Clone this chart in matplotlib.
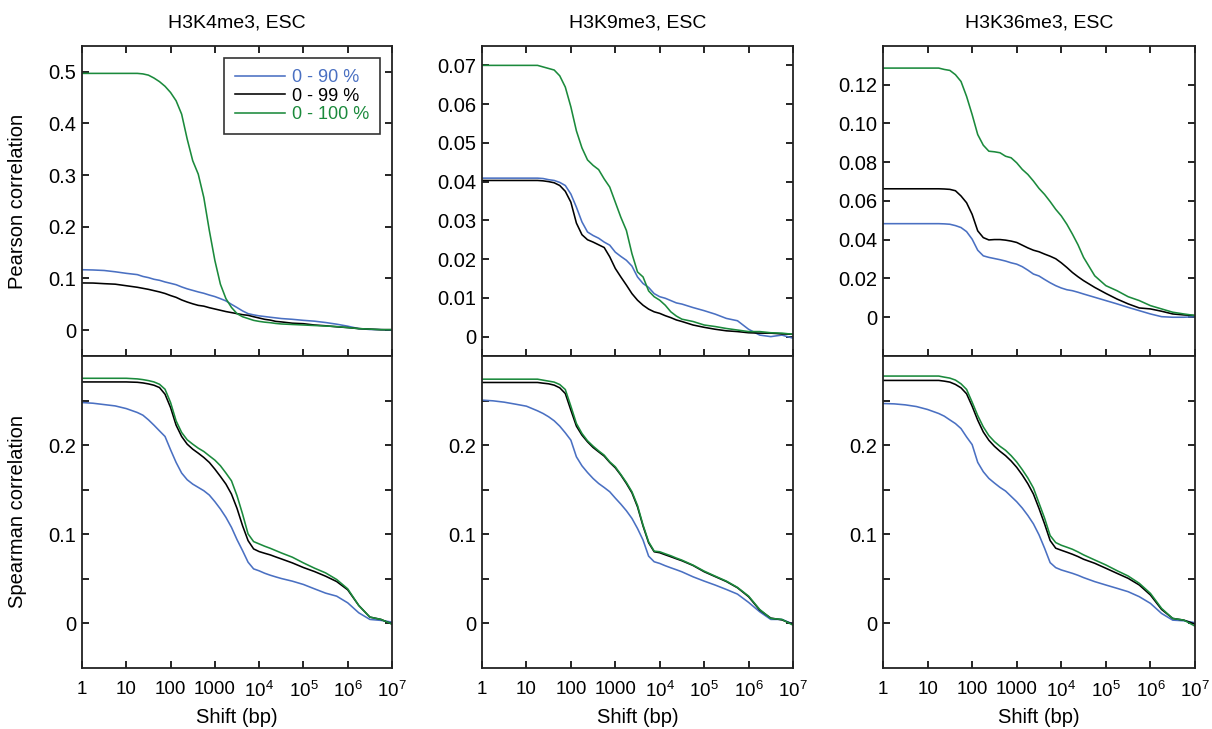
import matplotlib
matplotlib.use('Agg')
import matplotlib.pyplot as plt
from matplotlib.ticker import FixedLocator, FixedFormatter

plt.rcParams['font.family'] = ['Liberation Sans', 'DejaVu Sans']
plt.rcParams['mathtext.fontset'] = 'custom'
plt.rcParams['mathtext.rm'] = 'Liberation Sans'
plt.rcParams['mathtext.it'] = 'Liberation Sans:italic'

log_shift = [0, 0.25, 0.5, 0.75, 1, 1.25,
             1.375, 1.5, 1.625, 1.75, 1.875, 2, 2.125, 2.25, 2.375, 2.5, 2.625, 2.75, 2.875,
             3, 3.125, 3.25, 3.375, 3.5, 3.625, 3.75, 3.875, 4, 4.125, 4.25, 4.375, 4.5,
             4.75, 5, 5.25, 5.5, 5.75, 6, 6.25, 6.5, 6.75, 7]

labels = ['0 - 90 %', '0 - 99 %', '0 - 100 %']
colors = ['#4a70c2', '#000000', '#1b8a3c']
titles = ['H3K4me3, ESC', 'H3K9me3, ESC', 'H3K36me3, ESC']

# H3K4me3 Pearson
k4_p90 = [0.117, 0.1165, 0.1155, 0.113, 0.110, 0.1075,
          0.104, 0.1017, 0.0985, 0.0965, 0.0933, 0.0907, 0.088, 0.0837, 0.080, 0.077, 0.074, 0.0714, 0.068,
          0.065, 0.061, 0.0566, 0.050, 0.0438, 0.0373, 0.032, 0.0296, 0.0277, 0.0264, 0.025, 0.0238, 0.0225,
          0.021, 0.019, 0.0174, 0.0148, 0.0116, 0.0077, 0.003, 0.0013, 0.001, 0.0]
k4_p99 = [0.0914, 0.0912, 0.090, 0.089, 0.086, 0.083,
          0.081, 0.079, 0.0765, 0.074, 0.071, 0.067, 0.0635, 0.0585, 0.0545, 0.051, 0.048, 0.0465, 0.0435,
          0.041, 0.0385, 0.036, 0.034, 0.032, 0.030, 0.0287, 0.026, 0.0235, 0.021, 0.0195, 0.017, 0.016,
          0.0135, 0.0125, 0.010, 0.0085, 0.0065, 0.005, 0.003, 0.002, 0.001, 0.001]
k4_p100 = [0.497, 0.497, 0.497, 0.497, 0.497, 0.497,
           0.496, 0.4936, 0.488, 0.481, 0.472, 0.460, 0.444, 0.418, 0.370, 0.328, 0.302, 0.257, 0.193,
           0.135, 0.089, 0.061, 0.044, 0.032, 0.026, 0.0225, 0.019, 0.017, 0.0155, 0.0145, 0.013, 0.012,
           0.011, 0.010, 0.009, 0.008, 0.007, 0.005, 0.003, 0.002, 0.001, 0.001]

# H3K9me3 Pearson
k9_p90 = [0.0409, 0.0409, 0.0409, 0.0409, 0.0409, 0.0409,
          0.0408, 0.0405, 0.0403, 0.0398, 0.039, 0.0368, 0.0334, 0.0296, 0.027, 0.0261, 0.0254, 0.0244, 0.0236,
          0.0218, 0.0207, 0.0197, 0.0182, 0.0154, 0.0137, 0.0127, 0.0111, 0.0103, 0.0099, 0.0093, 0.0087, 0.0084,
          0.0075, 0.0067, 0.0058, 0.0047, 0.0041, 0.0019, 0.0004, 0.0, 0.0004, -0.0004]
k9_p99 = [0.0403, 0.0403, 0.0403, 0.0403, 0.0403, 0.0403,
          0.0402, 0.040, 0.0397, 0.039, 0.0375, 0.0347, 0.0293, 0.0263, 0.025, 0.0244, 0.0237, 0.023, 0.0206,
          0.0176, 0.0154, 0.0133, 0.0111, 0.0094, 0.0081, 0.0071, 0.0064, 0.006, 0.0054, 0.0049, 0.0043, 0.0039,
          0.003, 0.0024, 0.0019, 0.0015, 0.0013, 0.001, 0.0009, 0.0009, 0.0007, 0.0006]
k9_p100 = [0.070, 0.070, 0.070, 0.070, 0.070, 0.070,
           0.0696, 0.0692, 0.0688, 0.0673, 0.0644, 0.0593, 0.0531, 0.0487, 0.0456, 0.0442, 0.0431, 0.0407, 0.0386,
           0.0347, 0.0308, 0.0274, 0.0214, 0.0167, 0.0154, 0.0118, 0.0103, 0.0094, 0.0081, 0.0064, 0.0053, 0.0045,
           0.0039, 0.003, 0.0026, 0.0021, 0.0017, 0.0013, 0.0013, 0.001, 0.0009, 0.0006]

# H3K36me3 Pearson
k36_p90 = [0.0483, 0.0483, 0.0483, 0.0483, 0.0483, 0.0483,
           0.0482, 0.048, 0.0473, 0.0463, 0.0442, 0.0403, 0.0346, 0.0317, 0.0309, 0.0303, 0.0297, 0.029, 0.0281,
           0.0274, 0.0261, 0.0243, 0.0223, 0.0213, 0.0195, 0.0178, 0.0163, 0.0151, 0.0142, 0.0137, 0.0129, 0.012,
           0.0103, 0.0086, 0.0069, 0.0051, 0.0034, 0.0017, 0.0003, 0.0, 0.0, 0.0003]
k36_p99 = [0.0663, 0.0663, 0.0663, 0.0663, 0.0663, 0.0663,
           0.0662, 0.066, 0.0653, 0.0626, 0.0591, 0.0531, 0.0446, 0.0411, 0.0399, 0.0401, 0.0401, 0.0398, 0.0393,
           0.0386, 0.0372, 0.0358, 0.0346, 0.0338, 0.0326, 0.0315, 0.0302, 0.0281, 0.0257, 0.0231, 0.0209, 0.0189,
           0.0154, 0.0123, 0.0094, 0.0069, 0.0048, 0.0043, 0.0031, 0.0017, 0.0012, 0.0009]
k36_p100 = [0.1286, 0.1286, 0.1286, 0.1286, 0.1286, 0.1286,
            0.1279, 0.1274, 0.1252, 0.1217, 0.114, 0.1046, 0.0943, 0.0888, 0.0857, 0.0854, 0.0849, 0.0831, 0.0823,
            0.0797, 0.0763, 0.0737, 0.0703, 0.0665, 0.0634, 0.0597, 0.0557, 0.0523, 0.048, 0.0429, 0.0374, 0.0309,
            0.0214, 0.0163, 0.0137, 0.0106, 0.0086, 0.006, 0.0043, 0.0026, 0.0017, 0.0009]

# H3K4me3 Spearman
k4_s90 = [0.2478, 0.247, 0.2455, 0.244, 0.241, 0.2366,
          0.2336, 0.2284, 0.2224, 0.216, 0.2097, 0.1948, 0.1806, 0.1687, 0.1612, 0.1563, 0.1526, 0.1489, 0.144,
          0.1366, 0.1284, 0.119, 0.1078, 0.094, 0.0817, 0.0687, 0.0612, 0.059, 0.0563, 0.0541, 0.0522, 0.0504,
          0.0474, 0.0437, 0.0388, 0.034, 0.0306, 0.0231, 0.0119, 0.0045, 0.0034, 0.0015]
k4_s99 = [0.2709, 0.2709, 0.2709, 0.2709, 0.2709, 0.2705,
          0.2698, 0.2687, 0.2672, 0.2646, 0.2571, 0.2422, 0.2224, 0.2097, 0.2011, 0.1955, 0.191, 0.1862, 0.1806,
          0.1731, 0.1649, 0.1563, 0.1451, 0.1291, 0.1097, 0.0929, 0.0836, 0.0806, 0.0787, 0.0769, 0.0746, 0.0724,
          0.0679, 0.0627, 0.0582, 0.053, 0.047, 0.0377, 0.0201, 0.0071, 0.0045, -0.0007]
k4_s100 = [0.275, 0.275, 0.275, 0.275, 0.275, 0.2743,
           0.2735, 0.2724, 0.2709, 0.2683, 0.2627, 0.2478, 0.2272, 0.2142, 0.206, 0.2011, 0.1966, 0.1929, 0.188,
           0.1832, 0.1769, 0.1687, 0.160, 0.1433, 0.1228, 0.1004, 0.0918, 0.0892, 0.0866, 0.0843, 0.0817, 0.0791,
           0.0743, 0.0679, 0.062, 0.0567, 0.0493, 0.0388, 0.0201, 0.0071, 0.0045, -0.0007]

# H3K9me3 Spearman
k9_s90 = [0.2505, 0.2497, 0.2482, 0.246, 0.2437, 0.2385,
          0.2355, 0.2318, 0.2273, 0.2213, 0.2138, 0.2056, 0.1869, 0.1768, 0.1693, 0.1626, 0.157, 0.1525, 0.1477,
          0.1406, 0.1338, 0.1264, 0.1178, 0.1065, 0.0935, 0.0755, 0.0692, 0.0673, 0.0647, 0.0624, 0.0602, 0.0579,
          0.0523, 0.0475, 0.043, 0.0381, 0.0329, 0.0236, 0.0131, 0.0045, 0.0045, -0.0007]
k9_s99 = [0.2703, 0.2703, 0.2703, 0.2703, 0.2703, 0.2703,
          0.2695, 0.2688, 0.2673, 0.2643, 0.2579, 0.2393, 0.2213, 0.2112, 0.2037, 0.1974, 0.1925, 0.1877, 0.1806,
          0.1746, 0.1664, 0.157, 0.1465, 0.1308, 0.1092, 0.0905, 0.0804, 0.0793, 0.077, 0.0748, 0.0725, 0.0703,
          0.065, 0.058, 0.0525, 0.047, 0.040, 0.030, 0.015, 0.006, 0.004, -0.001]
k9_s100 = [0.274, 0.274, 0.274, 0.274, 0.274, 0.274,
           0.2729, 0.2718, 0.2707, 0.268, 0.2624, 0.2437, 0.2243, 0.2131, 0.2049, 0.1989, 0.1936, 0.1888, 0.1813,
           0.1757, 0.1671, 0.1581, 0.1477, 0.1323, 0.1103, 0.0916, 0.0811, 0.0804, 0.0781, 0.0759, 0.0733, 0.071,
           0.0654, 0.0587, 0.053, 0.0475, 0.0404, 0.0307, 0.0157, 0.0056, 0.0045, -0.0019]

# H3K36me3 Spearman
k36_s90 = [0.2467, 0.2463, 0.2452, 0.2433, 0.240, 0.2355,
           0.2325, 0.2283, 0.2242, 0.2186, 0.2092, 0.2006, 0.1807, 0.1702, 0.1627, 0.1575, 0.1526, 0.1485, 0.1425,
           0.1365, 0.1294, 0.1211, 0.1117, 0.0994, 0.0844, 0.0682, 0.0626, 0.060, 0.0581, 0.0562, 0.054, 0.0514,
           0.0469, 0.0431, 0.0394, 0.0356, 0.030, 0.0225, 0.0112, 0.0037, 0.003, 0.0008]
k36_s99 = [0.2726, 0.2726, 0.2726, 0.2726, 0.2726, 0.2726,
           0.2718, 0.2707, 0.2681, 0.2643, 0.2576, 0.2437, 0.228, 0.2148, 0.2055, 0.1987, 0.1931, 0.1882, 0.1822,
           0.1751, 0.1665, 0.1567, 0.1451, 0.129, 0.1117, 0.093, 0.0844, 0.0821, 0.0799, 0.0776, 0.075, 0.072,
           0.0675, 0.0619, 0.0562, 0.0506, 0.0431, 0.0319, 0.0157, 0.0056, 0.0037, -0.0008]
k36_s100 = [0.2775, 0.2775, 0.2775, 0.2775, 0.2775, 0.2775,
            0.2763, 0.2752, 0.273, 0.2688, 0.2625, 0.2482, 0.2332, 0.2205, 0.2107, 0.204, 0.1987, 0.1942, 0.1882,
            0.1811, 0.1725, 0.1631, 0.1519, 0.135, 0.1181, 0.0986, 0.0907, 0.0877, 0.0855, 0.0832, 0.0802, 0.0769,
            0.0712, 0.0656, 0.0592, 0.0532, 0.045, 0.0337, 0.0169, 0.0056, 0.0037, -0.003]

pearson = [[k4_p90, k4_p99, k4_p100], [k9_p90, k9_p99, k9_p100], [k36_p90, k36_p99, k36_p100]]
spearman = [[k4_s90, k4_s99, k4_s100], [k9_s90, k9_s99, k9_s100], [k36_s90, k36_s99, k36_s100]]

# y axes of the top row: limits, ticks, tick labels
top_ylim = [(-0.05, 0.55), (-0.005, 0.075), (-0.02, 0.14)]
top_ticks = [[0, 0.1, 0.2, 0.3, 0.4, 0.5],
             [0, 0.01, 0.02, 0.03, 0.04, 0.05, 0.06, 0.07],
             [0, 0.02, 0.04, 0.06, 0.08, 0.10, 0.12]]
top_ticklabels = [['0', '0.1', '0.2', '0.3', '0.4', '0.5'],
                  ['0', '0.01', '0.02', '0.03', '0.04', '0.05', '0.06', '0.07'],
                  ['0', '0.02', '0.04', '0.06', '0.08', '0.10', '0.12']]
bot_ylim = (-0.05, 0.3)
bot_ticks = [0, 0.05, 0.1, 0.15, 0.2, 0.25]
bot_ticklabels = ['0', '', '0.1', '', '0.2', '']

xticks = [1, 10, 100, 1000, 1e4, 1e5, 1e6, 1e7]
xticklabels = ['1', '10', '100', '1000', '$10^{4}$', '$10^{5}$', '$10^{6}$', '$10^{7}$']

fig = plt.figure(figsize=(12.12, 7.29), dpi=100)
W, H = 1212.0, 729.0
col_left = [82, 482, 883]
col_width = [310, 311, 312]

shift = [10 ** v for v in log_shift]

for c in range(3):
    x0 = col_left[c] / W
    w = col_width[c] / W
    ax_t = fig.add_axes([x0, 1 - 356 / H, w, 310 / H])
    ax_b = fig.add_axes([x0, 1 - 668 / H, w, 312 / H])

    for ax, data in ((ax_t, pearson[c]), (ax_b, spearman[c])):
        for k in range(3):
            ax.plot(shift, data[k], color=colors[k], lw=1.15, label=labels[k])
        ax.set_xscale('log')
        ax.set_xlim(1, 1e7)
        ax.xaxis.set_major_locator(FixedLocator(xticks))
        ax.xaxis.set_minor_locator(FixedLocator([]))
        for sp in ax.spines.values():
            sp.set_linewidth(1.3)
            sp.set_color('#222222')

    ax_t.set_ylim(*top_ylim[c])
    ax_t.yaxis.set_major_locator(FixedLocator(top_ticks[c]))
    ax_t.yaxis.set_major_formatter(FixedFormatter(top_ticklabels[c]))
    ax_t.tick_params(axis='both', which='both', direction='in', length=5, width=1.2,
                     top=True, right=True, labelbottom=False, labelsize=14.5, pad=4)
    ax_t.set_title(titles[c], fontsize=14, pad=13)

    ax_b.set_ylim(*bot_ylim)
    ax_b.yaxis.set_major_locator(FixedLocator(bot_ticks))
    ax_b.yaxis.set_major_formatter(FixedFormatter(bot_ticklabels))
    ax_b.tick_params(axis='y', which='both', direction='in', length=5, width=1.2,
                     right=True, labelsize=14.5, pad=4)
    ax_b.tick_params(axis='x', which='both', direction='in', length=5, width=1.2,
                     top=False, labelsize=13.5, pad=9)
    ax_b.xaxis.set_major_formatter(FixedFormatter(xticklabels))
    ax_b.set_xlabel('Shift (bp)', fontsize=14.5, labelpad=5)

    if c == 0:
        ax_t.set_ylabel('Pearson correlation', fontsize=14.5)
        ax_t.yaxis.set_label_coords(-0.178, 0.5)
        ax_b.set_ylabel('Spearman correlation', fontsize=14.5)
        ax_b.yaxis.set_label_coords(-0.178, 0.5)
        leg = ax_t.legend(loc='upper right', fontsize=13, frameon=True, fancybox=False,
                          framealpha=1, edgecolor='#333333', handlelength=2.8,
                          handletextpad=0.35, labelspacing=0.08, borderpad=0.6,
                          borderaxespad=0.68, labelcolor='linecolor')
        leg.get_frame().set_linewidth(1.2)

fig.savefig('out.png', dpi=100)
